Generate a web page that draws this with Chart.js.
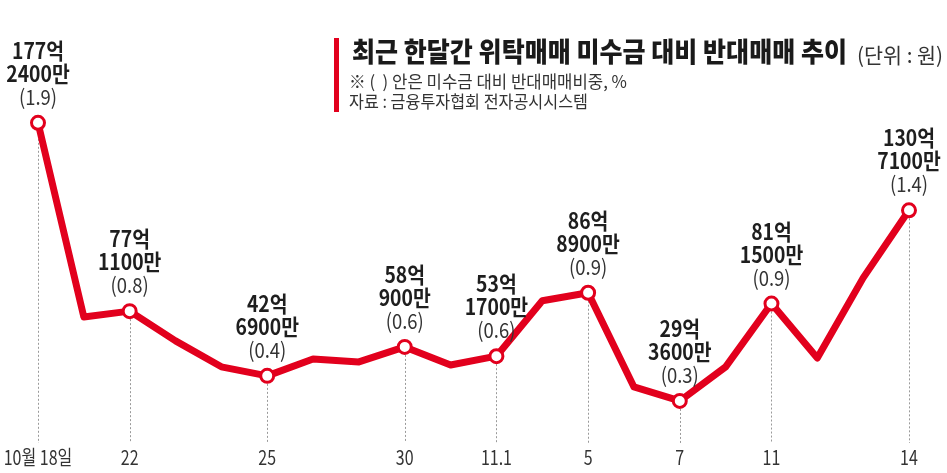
<!DOCTYPE html>
<html>
<head>
<meta charset="utf-8">
<script src="https://cdn.jsdelivr.net/npm/chart.js@4.4.1/dist/chart.umd.min.js"></script>
<style>
html,body{margin:0;padding:0;background:#fff;}
#wrap{width:947px;height:473px;position:relative;}
</style>
</head>
<body>
<div id="wrap"><canvas id="c" width="947" height="473"></canvas></div>
<script>
// ---- data ----
const dates = ['10월 18일','', '22','','','25','','','30','','11.1','','5','','7','','11','','','14'];
const amounts = [177.24, 74.0, 77.11, 61.3, 47.5, 42.69, 51.7, 50.1, 58.09, 48.5, 53.17, 82.6, 86.89, 36.8, 29.36, 47.5, 81.15, 52.2, 94.8, 130.71];
const labelIdx = [0, 2, 5, 8, 10, 12, 14, 16, 19];
const labelEok = ['177억','77억','42억','58억','53억','86억','29억','81억','130억'];
const labelMan = ['2400만','1100만','6900만','900만','1700만','8900만','3600만','1500만','7100만'];
const labelRatio = ['1.9','0.8','0.4','0.6','0.6','0.9','0.3','0.9','1.4'];

const titleText = '최근 한달간 위탁매매 미수금 대비 반대매매 추이';
const unitText = '(단위 : 원)';
const noteText = '※ (  ) 안은 미수금 대비 반대매매비중, %';
const sourceText = '자료 : 금융투자협회 전자공시시스템';

const RED = '#e2001d';
const KFONT = "'Noto Sans CJK KR', 'Noto Sans', sans-serif";

function drawScaled(ctx, text, x, y, font, sx, align) {
  ctx.save();
  ctx.font = font;
  ctx.translate(x, y);
  ctx.scale(sx, 1);
  ctx.textAlign = align || 'center';
  ctx.textBaseline = 'alphabetic';
  ctx.fillText(text, 0, 0);
  ctx.restore();
}
function drawFit(ctx, text, x, y, font, width) {
  ctx.save();
  ctx.font = font;
  const w = ctx.measureText(text).width;
  const sx = width / w;
  ctx.translate(x, y);
  ctx.scale(sx, 1);
  ctx.textAlign = 'left';
  ctx.textBaseline = 'alphabetic';
  ctx.fillText(text, 0, 0);
  ctx.restore();
}

const decor = {
  id: 'decor',
  beforeDatasetsDraw(chart) {
    const ctx = chart.ctx;
    const meta = chart.getDatasetMeta(0);
    const bottom = chart.chartArea.bottom;
    ctx.save();
    ctx.strokeStyle = '#9a9a9a';
    ctx.lineWidth = 1;
    ctx.setLineDash([2, 2]);
    labelIdx.forEach(i => {
      const p = meta.data[i];
      ctx.beginPath();
      ctx.moveTo(Math.round(p.x) + 0.5, p.y);
      ctx.lineTo(Math.round(p.x) + 0.5, bottom);
      ctx.stroke();
    });
    ctx.restore();
  },
  afterDraw(chart) {
    const ctx = chart.ctx;
    const meta = chart.getDatasetMeta(0);
    const xs = chart.scales.x;
    ctx.save();
    // x tick labels, positioned by the category scale
    ctx.fillStyle = '#333';
    xs.ticks.forEach((t, i) => {
      const lab = dates[i];
      if (!lab) return;
      drawScaled(ctx, lab, xs.getPixelForTick(i), chart.chartArea.bottom + 22, '20px ' + KFONT, 0.8, 'center');
    });
    // data labels
    labelIdx.forEach((i, k) => {
      const p = meta.data[i];
      ctx.fillStyle = '#1e1e1e';
      drawScaled(ctx, labelEok[k], p.x, p.y - 64, 'bold 22px ' + KFONT, 0.88, 'center');
      drawScaled(ctx, labelMan[k], p.x, p.y - 41, 'bold 22px ' + KFONT, 0.88, 'center');
      ctx.fillStyle = '#333';
      drawScaled(ctx, '(' + labelRatio[k] + ')', p.x, p.y - 18, '21px ' + KFONT, 0.88, 'center');
    });
    // title block
    ctx.fillStyle = RED;
    ctx.fillRect(334, 38, 5, 74);
    ctx.fillStyle = '#1a1a1a';
    drawFit(ctx, titleText, 352, 62, '900 27px ' + KFONT, 495);
    ctx.fillStyle = '#333';
    drawFit(ctx, unitText, 857, 63, '21px ' + KFONT, 86);
    drawFit(ctx, noteText, 349, 88, '17px ' + KFONT, 278);
    drawFit(ctx, sourceText, 349, 108, '17px ' + KFONT, 239);
    ctx.restore();
  }
};

new Chart(document.getElementById('c'), {
  type: 'line',
  data: {
    labels: dates,
    datasets: [{
      data: amounts,
      borderColor: RED,
      borderWidth: 7,
      borderJoinStyle: 'round',
      borderCapStyle: 'round',
      tension: 0,
      pointRadius: amounts.map((v, i) => labelIdx.includes(i) ? 6.5 : 0),
      pointBackgroundColor: '#fff',
      pointBorderColor: RED,
      pointBorderWidth: 3,
      pointHoverRadius: 0
    }]
  },
  options: {
    responsive: false,
    animation: false,
    devicePixelRatio: 1,
    layout: { padding: { left: 38, right: 38, top: 80, bottom: 30 } },
    plugins: { legend: { display: false }, tooltip: { enabled: false } },
    scales: {
      x: {
        offset: false,
        grid: { display: false, drawTicks: false },
        border: { display: false },
        ticks: { display: false, autoSkip: false, maxRotation: 0 }
      },
      y: {
        display: false,
        min: 7,
        max: 200
      }
    }
  },
  plugins: [decor]
});
</script>
</body>
</html>
